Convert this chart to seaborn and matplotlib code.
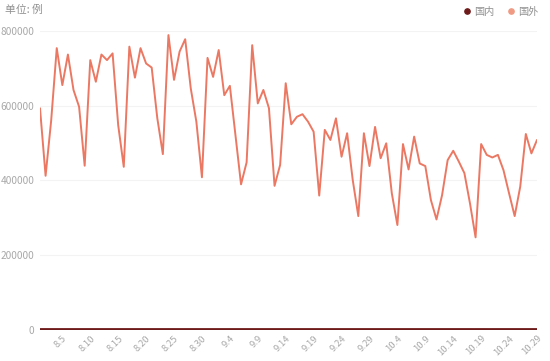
import pandas as pd
import numpy as np
import seaborn as sns
import matplotlib.pyplot as plt
from matplotlib.lines import Line2D

# daily dates 8.1 .. 10.29
dates = pd.date_range('2020-08-01', '2020-10-29')
labels = [f"{d.month}.{d.day}" for d in dates]

# 国外 daily values
abroad = [593000, 412000, 560000, 754000, 655000, 737000, 642000, 597000, 439000, 722000,
          664000, 737000, 722000, 740000, 548000, 436000, 758000, 675000, 754000, 713000,
          702000, 567000, 470000, 789000, 669000, 745000, 778000, 646000, 557000, 408000,
          728000, 677000, 749000, 628000, 653000, 521000, 389000, 448000, 762000, 606000,
          642000, 593000, 385000, 441000, 660000, 550000, 570000, 577000, 557000, 530000,
          359000, 535000, 508000, 566000, 463000, 526000, 401000, 304000, 526000, 438000,
          543000, 459000, 499000, 365000, 280000, 497000, 429000, 517000, 445000, 438000,
          347000, 295000, 360000, 454000, 479000, 450000, 419000, 338000, 247000, 497000,
          468000, 461000, 468000, 427000, 365000, 304000, 383000, 524000, 472000, 508000]

# 国内 daily values (tiny compared to 国外)
domestic = [45, 36, 32, 40, 38, 30, 28, 35, 32, 25, 30, 26, 28, 33, 30, 22, 24, 27, 26, 30,
            28, 22, 25, 22, 20, 18, 16, 22, 20, 18, 16, 14, 12, 10, 16, 14, 12, 10, 12, 14,
            13, 10, 11, 12, 14, 10, 12, 16, 12, 10, 14, 12, 10, 11, 12, 14, 16, 12, 10, 14,
            15, 12, 16, 20, 18, 14, 12, 10, 13, 16, 14, 18, 20, 22, 26, 20, 24, 18, 16, 22,
            20, 18, 24, 22, 26, 20, 28, 30, 26, 24]

df = pd.DataFrame({'idx': np.arange(len(labels)), 'label': labels,
                   '国内': domestic, '国外': abroad})

c_dom = '#6e1a1a'
c_abr = '#eb7862'
c_txt = '#a8a8a8'

sns.set_theme(style='white')
plt.rcParams['font.family'] = ['Noto Sans CJK SC', 'DejaVu Sans']

fig = plt.figure(figsize=(5.5, 3.61), dpi=100)
ax = fig.add_axes([40 / 550, 31.5 / 361, 497 / 550, 298.5 / 361])

for y in [200000, 400000, 600000, 800000]:
    ax.axhline(y, color='#f3f3f3', lw=0.8, zorder=0)

sns.lineplot(data=df, x='idx', y='国外', ax=ax, color=c_abr, lw=1.4, zorder=3)
sns.lineplot(data=df, x='idx', y='国内', ax=ax, color=c_dom, lw=2.0, zorder=4)

ax.set_xlim(0, len(labels) - 1)
ax.set_ylim(0, 800000)
ticks = list(range(4, len(labels), 5))
ax.set_xticks(ticks)
ax.set_xticklabels([labels[i] for i in ticks], rotation=45, ha='right',
                   rotation_mode='anchor', fontsize=6.8, color=c_txt)
ax.set_yticks([0, 200000, 400000, 600000, 800000])
ax.set_yticklabels(['0', '200000', '400000', '600000', '800000'],
                   fontsize=7.3, color=c_txt)
ax.tick_params(axis='both', length=0, pad=4)
ax.tick_params(axis='x', pad=3)
ax.set_xlabel('')
ax.set_ylabel('')
for s in ax.spines.values():
    s.set_visible(False)

fig.text(5 / 550, 1 - 10 / 361, '单位: 例', fontsize=7.8, color='#909090', va='center')

handles = [Line2D([], [], marker='o', ls='none', color=c_dom, markersize=3.8),
           Line2D([], [], marker='o', ls='none', color='#f09a84', markersize=3.8)]
fig.legend(handles, ['国内', '国外'], loc='center right', bbox_to_anchor=(0.995, 1 - 12 / 361),
           ncol=2, frameon=False, fontsize=7.3, labelcolor='#909090',
           handletextpad=0.3, columnspacing=1.2, handlelength=0.8)

fig.savefig('out.png', dpi=100, facecolor='white')
